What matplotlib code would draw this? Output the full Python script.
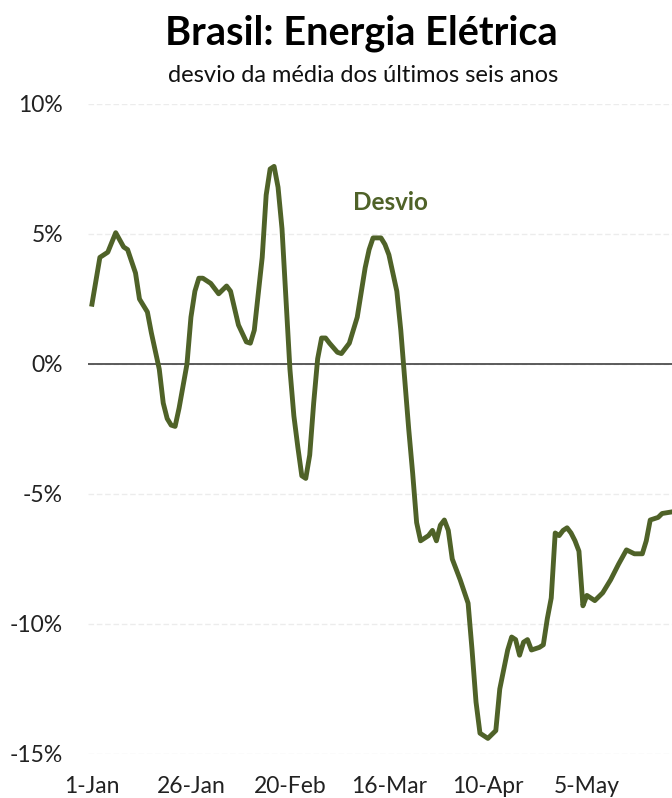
import matplotlib.pyplot as plt

# dias desde 1-Jan e desvio (%) da média dos últimos seis anos
dias = [0, 2, 4, 6, 8, 9, 11, 12, 14, 15, 17, 18, 19, 20, 21, 22, 24, 25, 26, 27,
        28, 30, 32, 34, 35, 37, 39, 40, 41, 43, 44, 45, 46, 47, 48, 49, 50, 51, 52, 53,
        54, 55, 56, 57, 58, 59, 60, 62, 63, 65, 67, 69, 70, 71, 73, 74, 75, 77, 78, 79,
        80, 81, 82, 83, 85, 86, 87, 88, 89, 90, 91, 93, 95, 96, 97, 98, 100, 102, 103, 105,
        106, 107, 108, 109, 110, 111, 113, 114, 115, 116, 117, 118, 119, 120, 121, 122, 123, 124, 125, 127,
        129, 131, 133, 135, 137, 139, 140, 141, 143, 144, 146]
desvio = [2.3, 4.1, 4.3, 5.05, 4.5, 4.4, 3.5, 2.5, 2.0, 1.2, -0.2, -1.5, -2.1, -2.35, -2.4, -1.7, 0.0, 1.8, 2.8, 3.3,
          3.3, 3.1, 2.7, 3.0, 2.8, 1.5, 0.85, 0.8, 1.3, 4.1, 6.5, 7.5, 7.6, 6.8, 5.2, 2.5, -0.2, -2.0, -3.2, -4.3,
          -4.4, -3.5, -1.5, 0.2, 1.0, 1.0, 0.8, 0.45, 0.4, 0.8, 1.8, 3.7, 4.4, 4.85, 4.85, 4.6, 4.2, 2.8, 1.3, -0.6,
          -2.5, -4.2, -6.1, -6.8, -6.6, -6.4, -6.8, -6.2, -6.0, -6.4, -7.5, -8.3, -9.2, -11.0, -13.0, -14.2, -14.4, -14.1, -12.5, -11.0,
          -10.5, -10.6, -11.2, -10.7, -10.6, -11.0, -10.9, -10.8, -9.8, -9.0, -6.5, -6.6, -6.4, -6.3, -6.5, -6.8, -7.2, -9.3, -8.9, -9.1,
          -8.8, -8.3, -7.7, -7.15, -7.3, -7.3, -6.8, -6.0, -5.9, -5.75, -5.7]

xticks = [0, 25, 50, 75, 100, 125]
xlabels = ['1-Jan', '26-Jan', '20-Feb', '16-Mar', '10-Apr', '5-May']
yticks = [-15, -10, -5, 0, 5, 10]
ylabels = ['-15%', '-10%', '-5%', '0%', '5%', '10%']

verde = '#4f6228'
plt.rcParams['font.family'] = ['Lato', 'DejaVu Sans']

fig = plt.figure(figsize=(6.72, 7.98), dpi=100, facecolor='white')
ax = fig.add_axes([88 / 672, 1 - 754 / 798, 1 - 88 / 672, (754 - 104) / 798])

ax.plot(dias, desvio, color=verde, linewidth=3.5, solid_joinstyle='round', zorder=3)
ax.axhline(0, color='#404040', linewidth=1.2, zorder=2)

ax.set_xlim(-1, 146.5)
ax.set_ylim(-15, 10)
ax.set_yticks(yticks)
ax.set_yticklabels(ylabels)
ax.set_xticks(xticks)
ax.set_xticklabels(xlabels)
ax.tick_params(axis='both', length=0, labelsize=16.5, colors='#222222')
ax.tick_params(axis='y', pad=18)
ax.tick_params(axis='x', pad=16)

ax.grid(axis='y', color='#ececec', linewidth=1, linestyle=(0, (4, 2)))
ax.set_axisbelow(True)
for pos in ('top', 'right', 'left', 'bottom'):
    ax.spines[pos].set_visible(False)

ax.text(75.5, 6.2, 'Desvio', color=verde, fontsize=17.5, fontweight='bold', ha='center', va='center')

fig.text(0.537, 1 - 33 / 798, 'Brasil: Energia Elétrica', fontsize=28.5, fontweight='bold',
         ha='center', va='center', color='black')
fig.text(0.54, 1 - 75 / 798, 'desvio da média dos últimos seis anos', fontsize=17,
         ha='center', va='center', color='#111111')

fig.savefig('out.png', dpi=100, facecolor='white')
